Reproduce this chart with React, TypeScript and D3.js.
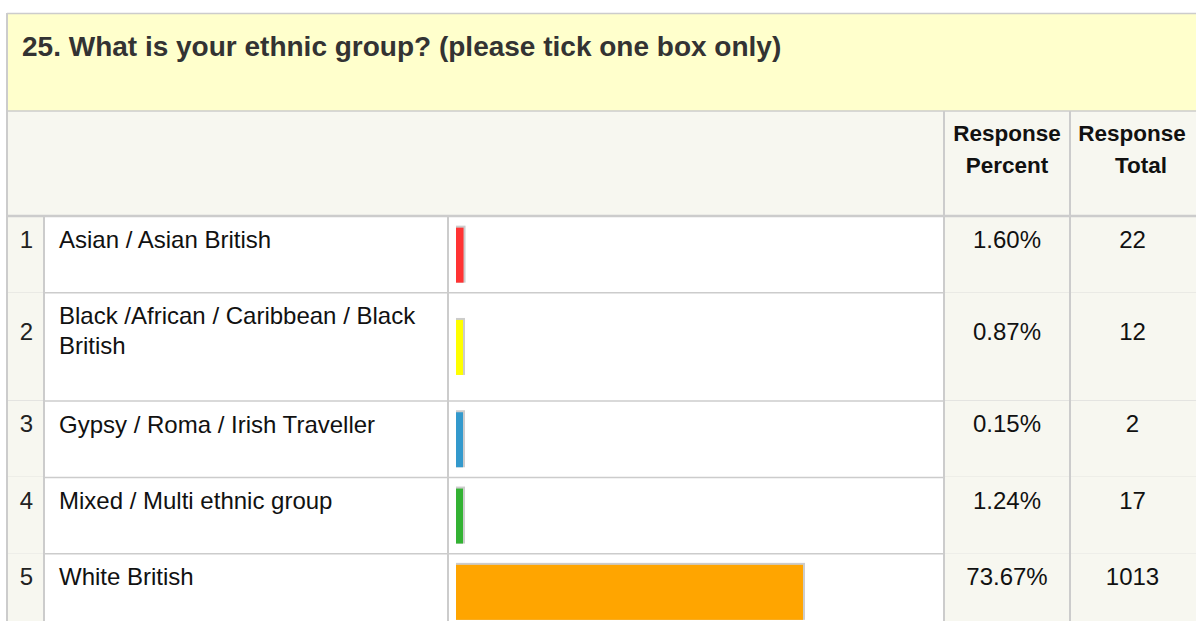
import React from "react";
import * as d3 from "d3";

const title = "25. What is your ethnic group? (please tick one box only)";
const headerPercent = ["Response", "Percent"];
const headerTotal = ["Response", "Total"];
const categories = [
  "Asian / Asian British",
  "Black /African / Caribbean / Black British",
  "Gypsy / Roma / Irish Traveller",
  "Mixed / Multi ethnic group",
  "White British",
];
const percents = [1.6, 0.87, 0.15, 1.24, 73.67];
const totals = [22, 12, 2, 17, 1013];
const barColors = ["#ff3333", "#ffff00", "#3399cc", "#33b233", "#ffa500"];

const W = 1196;
const H = 621;
const FONT = "'Liberation Sans', Arial, Helvetica, sans-serif";
const LABEL_SIZE = 24;
const LABEL_MAX = 372;

function wrap(text: string): string[] {
  const canvas = document.createElement("canvas");
  const ctx = canvas.getContext("2d");
  if (!ctx) return [text];
  ctx.font = `${LABEL_SIZE}px 'Liberation Sans', Arial, sans-serif`;
  const words = text.split(" ");
  const lines: string[] = [];
  let cur = "";
  for (const w of words) {
    const t = cur ? cur + " " + w : w;
    if (ctx.measureText(t).width > LABEL_MAX && cur) {
      lines.push(cur);
      cur = w;
    } else cur = t;
  }
  if (cur) lines.push(cur);
  return lines;
}

export default function App() {
  const colX = [7, 44, 448, 944, 1070, W];
  const titleTop = 14;
  const headerTop = 111;
  const bodyTop = 216;
  const baseRow = 76.3;
  const extraLine = 32;

  const lines = categories.map(wrap);
  const heights = lines.map((l) => baseRow + (l.length - 1) * extraLine);
  const tops: number[] = [];
  heights.reduce((acc, h) => {
    tops.push(acc);
    return acc + h;
  }, bodyTop);

  const x = d3.scaleLinear().domain([0, 100]).range([0, 471]);
  const barX = 456;
  const barH = 57;
  const minW = 7;

  const pctCx = (colX[3] + colX[4]) / 2;
  const totCx = (colX[4] + colX[5]) / 2;
  const totHeaderShift = [-1, 8];

  return (
    <svg
      width={W}
      height={H}
      style={{ position: "absolute", left: 0, top: 0, display: "block" }}
      fontFamily={FONT}
    >
      <rect x={0} y={0} width={W} height={H} fill="#ffffff" />
      {/* title band */}
      <rect x={colX[0]} y={titleTop} width={W - colX[0]} height={headerTop - titleTop} fill="#ffffcc" />
      <text x={22} y={56} fontSize={28} fontWeight="bold" fill="#333333">
        {title}
      </text>
      {/* header band */}
      <rect x={colX[0]} y={headerTop} width={W - colX[0]} height={bodyTop - headerTop} fill="#f7f7f0" />
      {headerPercent.map((t, j) => (
        <text key={"p" + j} x={pctCx} y={141 + j * 32} fontSize={22.5} fontWeight="bold" textAnchor="middle" fill="#111111">
          {t}
        </text>
      ))}
      {headerTotal.map((t, j) => (
        <text
          key={"t" + j}
          x={totCx + totHeaderShift[j]}
          y={141 + j * 32}
          fontSize={22.5}
          fontWeight="bold"
          textAnchor="middle"
          fill="#111111"
        >
          {t}
        </text>
      ))}
      {/* rows */}
      {categories.map((c, i) => {
        const top = tops[i];
        const h = heights[i];
        const mid = top + h / 2;
        const w = Math.max(minW, x(percents[i]));
        return (
          <g key={c}>
            <rect x={colX[0]} y={top} width={colX[1] - colX[0]} height={h} fill="#f7f7f0" />
            <rect x={colX[3]} y={top} width={W - colX[3]} height={h} fill="#f7f7f0" />
            <text x={(colX[0] + colX[1]) / 2 + 1} y={mid - 6.5} fontSize={24} textAnchor="middle" fill="#222222">
              {i + 1}
            </text>
            {lines[i].map((l, j) => (
              <text key={j} x={59} y={top + 32 + j * 30} fontSize={LABEL_SIZE} fill="#111111">
                {l}
              </text>
            ))}
            <rect x={barX} y={mid - barH / 2} width={w + 2} height={barH} fill="#cccccc" />
            <rect x={barX} y={mid - barH / 2 + 2} width={w} height={barH - 2} fill={barColors[i]} />
            <text x={pctCx} y={mid - 6.5} fontSize={24} textAnchor="middle" fill="#111111">
              {percents[i].toFixed(2) + "%"}
            </text>
            <text x={totCx - 0.5} y={mid - 6.5} fontSize={24} textAnchor="middle" fill="#111111">
              {totals[i]}
            </text>
            <line x1={colX[0]} x2={W} y1={top + h + 0.5} y2={top + h + 0.5} stroke="#cccccc" strokeWidth={1.5} />
          </g>
        );
      })}
      {/* borders */}
      <line x1={colX[0]} x2={W} y1={13.5} y2={13.5} stroke="#cccccc" strokeWidth={1.5} />
      <line x1={colX[0]} x2={W} y1={headerTop} y2={headerTop} stroke="#cccccc" strokeWidth={1.5} />
      <line x1={colX[0]} x2={W} y1={bodyTop} y2={bodyTop} stroke="#cccccc" strokeWidth={2.5} />
      <line x1={colX[0]} x2={colX[0]} y1={13} y2={H} stroke="#cccccc" strokeWidth={2} />
      {[colX[1], colX[2]].map((cx, i) => (
        <line key={i} x1={cx} x2={cx} y1={bodyTop} y2={H} stroke="#cccccc" strokeWidth={2} />
      ))}
      {[colX[3], colX[4]].map((cx, i) => (
        <line key={i} x1={cx} x2={cx} y1={headerTop} y2={H} stroke="#cccccc" strokeWidth={2} />
      ))}
    </svg>
  );
}
